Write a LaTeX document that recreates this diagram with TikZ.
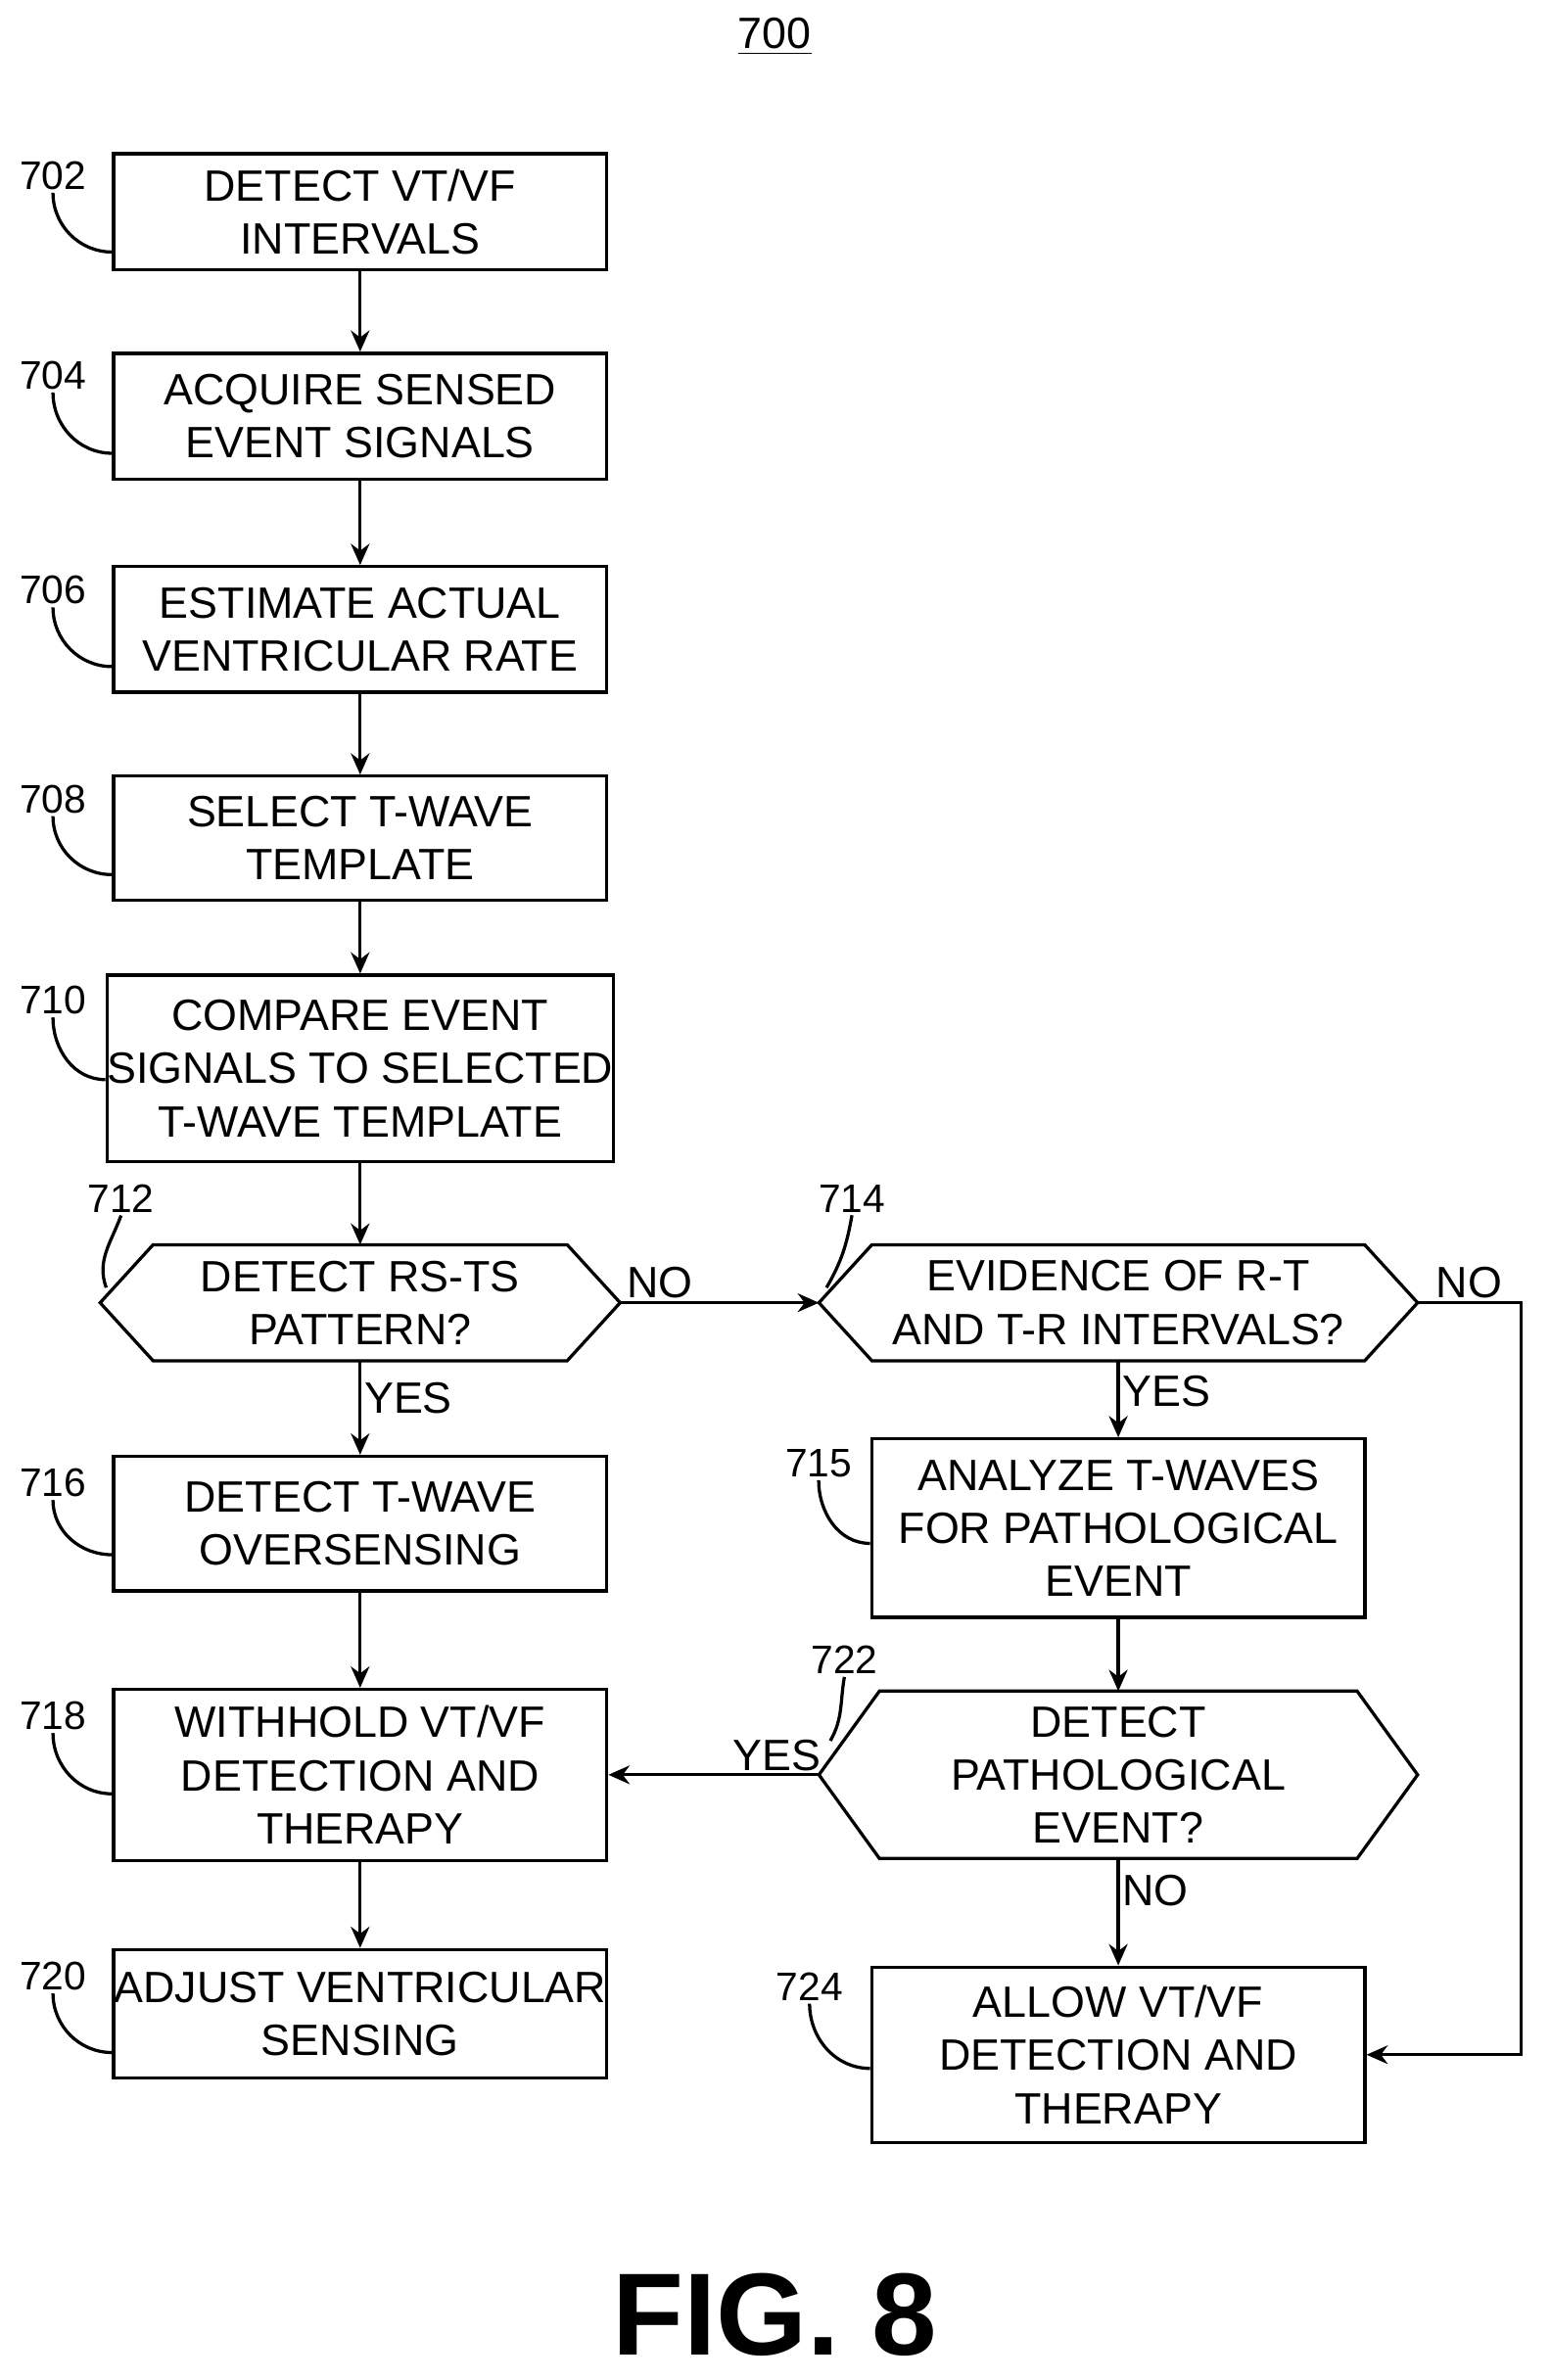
\documentclass[tikz,border=0pt]{standalone}
\usepackage{fontspec}
\setmainfont{Liberation Sans}
\usetikzlibrary{arrows.meta}
\tikzset{
  box/.style={draw, line width=1.2pt, minimum width=6.52cm, align=center, inner sep=0pt,
    font=\fontsize{16.5}{20}\selectfont},
  hexa/.style={minimum width=7.9cm, align=center, inner sep=0pt,
    font=\fontsize{16.5}{20}\selectfont},
  num/.style={font=\fontsize{15}{18}\selectfont, inner sep=1pt},
  lbl/.style={font=\fontsize{16.5}{20}\selectfont, inner sep=1pt},
  flow/.style={line width=1.2pt, -{Stealth[length=8pt,width=7pt]}},
  lead/.style={line width=1.2pt}
}
% hexagon around a named node
\newcommand{\hexdraw}[2]{\draw[line width=1.2pt] (#1.west) -- ([xshift=#2]#1.north west) -- ([xshift=-#2]#1.north east)
  -- (#1.east) -- ([xshift=-#2]#1.south east) -- ([xshift=#2]#1.south west) -- cycle;}
\begin{document}
\begin{tikzpicture}[x=0.02cm, y=-0.02cm]
  \useasboundingbox (0,0) rectangle (1024,1573);
  % title
  \node[lbl] (fig) at (512,24) {\underline{700}};
  % left column
  \node[box, minimum height=1.54cm] (detect) at (238,140) {DETECT VT/VF\\INTERVALS};
  \node[box, minimum height=1.66cm] (acquire) at (238,275) {ACQUIRE SENSED\\EVENT SIGNALS};
  \node[box, minimum height=1.66cm] (estimate) at (238,416) {ESTIMATE ACTUAL\\VENTRICULAR RATE};
  \node[box, minimum height=1.64cm] (select) at (238,554) {SELECT T-WAVE\\TEMPLATE};
  \node[box, minimum height=2.46cm] (compare) at (238,706) {COMPARE EVENT\\SIGNALS TO SELECTED\\T-WAVE TEMPLATE};
  \node[hexa, minimum width=6.86cm, minimum height=1.52cm] (pattern) at (238,861) {DETECT RS-TS\\PATTERN?};
  \node[box, minimum height=1.78cm] (oversense) at (238,1007) {DETECT T-WAVE\\OVERSENSING};
  \node[box, minimum height=2.26cm] (withhold) at (238,1173) {WITHHOLD VT/VF\\DETECTION AND\\THERAPY};
  \node[box, minimum height=1.7cm] (adjust) at (238,1331) {ADJUST VENTRICULAR\\SENSING};
  % right column
  \node[hexa, minimum height=1.52cm] (evidence) at (739,861) {EVIDENCE OF R-T\\AND T-R INTERVALS?};
  \node[box, minimum height=2.36cm] (analyze) at (739,1010) {ANALYZE T-WAVES\\FOR PATHOLOGICAL\\EVENT};
  \node[hexa, minimum height=2.2cm] (patho) at (739,1173) {DETECT\\PATHOLOGICAL\\EVENT?};
  \node[box, minimum height=2.32cm] (allow) at (739,1358) {ALLOW VT/VF\\DETECTION AND\\THERAPY};
  \hexdraw{pattern}{0.7cm}
  \hexdraw{evidence}{0.7cm}
  \hexdraw{patho}{0.8cm}
  % reference numbers
  \node[num] (n702) at (35,116) {702};
  \node[num] (n704) at (35,248) {704};
  \node[num] (n706) at (35,390) {706};
  \node[num] (n708) at (35,528) {708};
  \node[num] (n710) at (35,661) {710};
  \node[num] (n712) at (80,792) {712};
  \node[num] (n714) at (563,792) {714};
  \node[num] (n716) at (35,980) {716};
  \node[num] (n715) at (541,967) {715};
  \node[num] (n718) at (35,1134) {718};
  \node[num] (n722) at (558,1097) {722};
  \node[num] (n720) at (35,1306) {720};
  \node[num] (n724) at (535,1313) {724};
  \draw[lead] (n702.south) to[out=-90,in=180] ([yshift=0.26cm]detect.south west);
  \draw[lead] (n704.south) to[out=-90,in=180] ([yshift=0.36cm]acquire.south west);
  \draw[lead] (n706.south) to[out=-90,in=180] ([yshift=0.36cm]estimate.south west);
  \draw[lead] (n708.south) to[out=-90,in=180] ([yshift=0.36cm]select.south west);
  \draw[lead] (n710.south) to[out=-90,in=180] ([yshift=1.1cm]compare.south west);
  \draw[lead] (n716.south) to[out=-90,in=180] ([yshift=0.5cm]oversense.south west);
  \draw[lead] (n718.south) to[out=-90,in=180] ([yshift=0.9cm]withhold.south west);
  \draw[lead] (n720.south) to[out=-90,in=180] ([yshift=0.36cm]adjust.south west);
  \draw[lead] (n715.south) to[out=-90,in=180] ([yshift=1cm]analyze.south west);
  \draw[lead] (n724.south) to[out=-90,in=180] ([yshift=1cm]allow.south west);
  \draw[lead] (n712.south) to[out=-110,in=110] ([xshift=0.08cm,yshift=0.2cm]pattern.west);
  \draw[lead] (n714.south) to[out=-100,in=60] ([xshift=0.1cm,yshift=0.2cm]evidence.west);
  \draw[lead] (n722.south) to[out=-100,in=60] ([xshift=0.15cm,yshift=0.45cm]patho.west);
  % flow
  \draw[flow] (detect) -- (acquire);
  \draw[flow] (acquire) -- (estimate);
  \draw[flow] (estimate) -- (select);
  \draw[flow] (select) -- (compare);
  \draw[flow] (compare) -- (pattern);
  \draw[flow] (pattern) -- node[lbl, right, pos=0.4] {YES} (oversense);
  \draw[flow] (oversense) -- (withhold);
  \draw[flow] (withhold) -- (adjust);
  \draw[flow] (pattern.east) -- node[lbl, above, pos=0.2] {NO} (evidence.west);
  \draw[flow] (evidence) -- node[lbl, right, pos=0.4] {YES} (analyze);
  \draw[flow] (evidence.east) -- node[lbl, above, pos=0.5] {NO} (1005,861) |- (allow.east);
  \draw[flow] (analyze) -- (patho);
  \draw[flow] (patho.west) -- node[lbl, above, pos=0.2] {YES} (withhold.east);
  \draw[flow] (patho) -- node[lbl, right, pos=0.3] {NO} (allow);
  % figure caption
  \node[font=\bfseries\fontsize{44}{50}\selectfont] (caption) at (512,1530) {FIG. 8};
\end{tikzpicture}
\end{document}
